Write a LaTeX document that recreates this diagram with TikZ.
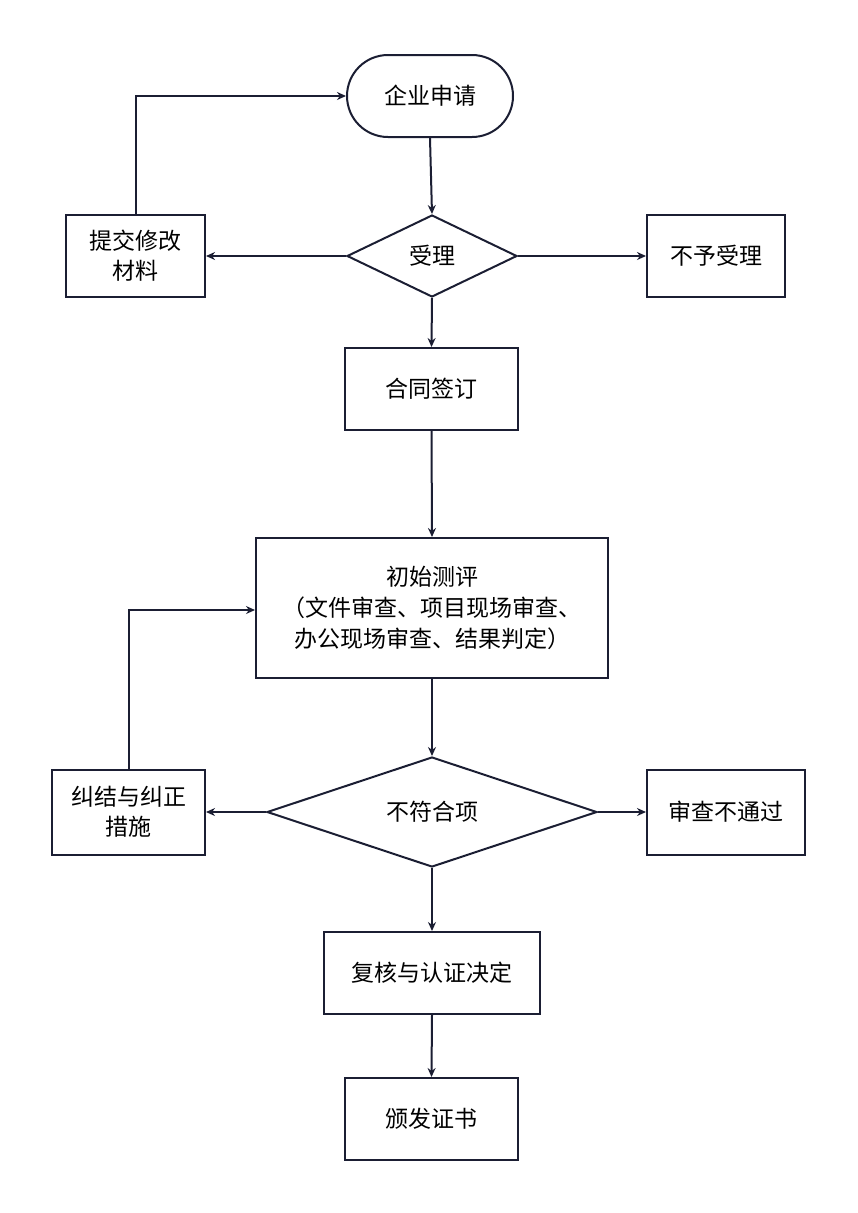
\documentclass[tikz,border=0pt]{standalone}
\usepackage{fontspec}
\setmainfont{Noto Sans CJK SC}
\usetikzlibrary{shapes.geometric,arrows.meta}
\definecolor{ln}{HTML}{1B1E33}
\begin{document}
\begin{tikzpicture}[x=1pt,y=-1pt,
  base/.style={draw=ln,line width=2pt,text=black,font=\fontsize{23}{30}\selectfont,inner sep=0pt,align=center},
  box/.style={base,rectangle},
  dia/.style={base,diamond,aspect=2},
  term/.style={base,rounded corners=41pt},
  arr/.style={draw=ln,line width=2pt,-{Stealth[length=9pt,width=8pt]}}]
\useasboundingbox (0,0) rectangle (858,1213);
\node[term,minimum width=166pt,minimum height=82pt] (a) at (430,96) {企业申请};
\node[dia,minimum width=170pt,minimum height=82pt] (b) at (432,256) {};
\node at (432,256) [font=\fontsize{23}{30}\selectfont] {受理};
\node[box,minimum width=139pt,minimum height=82pt] (c) at (135.5,256) {提交修改\\材料};
\node[box,minimum width=138pt,minimum height=82pt] (d) at (716,256) {不予受理};
\node[box,minimum width=173pt,minimum height=82pt] (e) at (431.5,389) {合同签订};
\node[box,minimum width=352pt,minimum height=140pt,font=\fontsize{23}{31}\selectfont] (f) at (432,608) {初始测评\\（文件审查、项目现场审查、\\办公现场审查、结果判定）};
\node[dia,minimum width=330pt,minimum height=110pt] (g) at (432,812) {};
\node at (432,812) [font=\fontsize{23}{30}\selectfont] {不符合项};
\node[box,minimum width=153pt,minimum height=85pt] (h) at (128.5,812) {纠结与纠正\\措施};
\node[box,minimum width=158pt,minimum height=85pt] (i) at (726,812) {审查不通过};
\node[box,minimum width=216pt,minimum height=82pt] (j) at (432,973) {复核与认证决定};
\node[box,minimum width=173pt,minimum height=82pt] (k) at (431.5,1119) {颁发证书};
\draw[arr] (a.south) -- (b.north);
\draw[arr] (b.west) -- (c.east);
\draw[arr] (b.east) -- (d.west);
\draw[arr] (b.south) -- (e.north);
\draw[arr] (c.north) |- (a.west);
\draw[arr] (e.south) -- (f.north);
\draw[arr] (f.south) -- (g.north);
\draw[arr] (g.west) -- (h.east);
\draw[arr] (g.east) -- (i.west);
\draw[arr] (h.north) |- ([yshift=-2pt]f.west);
\draw[arr] (g.south) -- (j.north);
\draw[arr] (j.south) -- (k.north);
\end{tikzpicture}
\end{document}
